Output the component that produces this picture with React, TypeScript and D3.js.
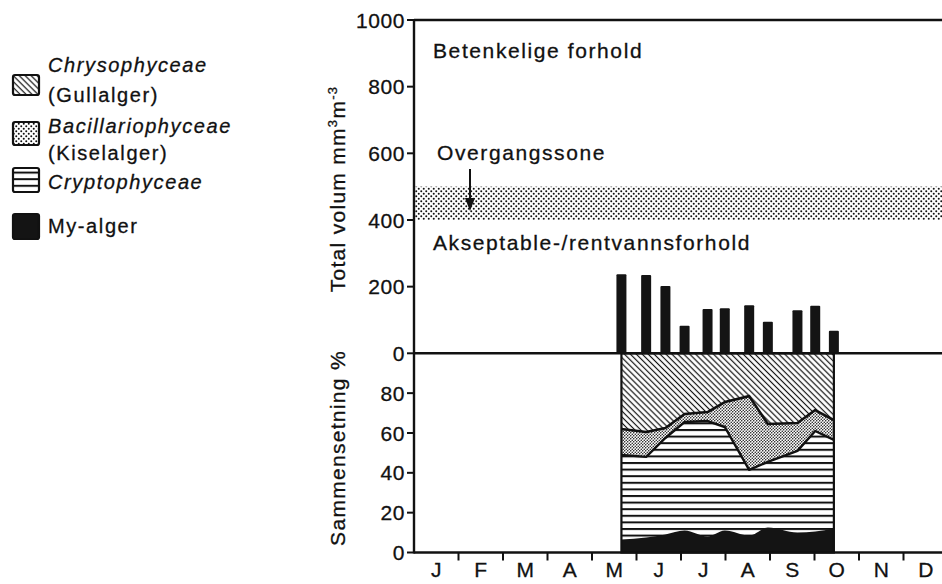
import React from "react";
import * as d3 from "d3";

// sampling dates (dd.mm) and values
const months = ["J", "F", "M", "A", "M", "J", "J", "A", "S", "O", "N", "D"];
const daysInMonth = [31, 29, 31, 30, 31, 30, 31, 31, 30, 31, 30, 31];
const sampleDates = ["21.05", "07.06", "20.06", "03.07", "19.07", "31.07", "17.08", "30.08", "19.09", "01.10", "14.10"];
const totalVolume = [237, 235, 202, 83, 133, 135, 144, 95, 129, 143, 68];

// composition, % (bottom to top)
const myAlger = [6.5, 7.5, 9, 11, 8, 11, 8.5, 12.5, 10, 10.5, 12];
const cryptophyceae = [42.5, 40.5, 48.5, 54.5, 58, 52, 33, 33, 41, 50.5, 44.5];
const bacillariophyceae = [13, 12.5, 5, 4, 4.5, 12.5, 37, 19, 14, 10.5, 10];
const chrysophyceae = [38, 39.5, 37.5, 30.5, 29.5, 24.5, 21.5, 35.5, 35, 28.5, 33.5];

const volumeTicks = [0, 200, 400, 600, 800, 1000];
const percentTicks = [0, 20, 40, 60, 80];
const transitionZone = [400, 500];

const FONT = "'Liberation Sans', Arial, Helvetica, sans-serif";
const keys = ["myAlger", "crypto", "bacill", "chryso"];

const toMonth = (s: string) => {
  const [dd, mm] = s.split(".").map(Number);
  return mm - 1 + (dd - 0.5) / daysInMonth[mm - 1];
};

const App: React.FC = () => {
  const x = d3.scaleLinear().domain([0, 12]).range([414, 948]);
  const yVol = d3.scaleLinear().domain([0, 1000]).range([353.3, 20]);
  const yPct = d3.scaleLinear().domain([0, 100]).range([552.5, 353.3]);

  const rows = sampleDates.map((d, i) => ({
    m: toMonth(d),
    myAlger: myAlger[i],
    crypto: cryptophyceae[i],
    bacill: bacillariophyceae[i],
    chryso: chrysophyceae[i],
  }));
  const series = d3.stack<any>().keys(keys)(rows);

  const fills: Record<string, string> = {
    myAlger: "#141414",
    crypto: "url(#hlines)",
    bacill: "url(#dotsDense)",
    chryso: "url(#hatch)",
  };

  const areaFor = (key: string) =>
    d3
      .area<any>()
      .x((d) => x(d.data.m))
      .y0(yPct(0))
      .y1((d) => yPct(d[1]))
      .curve(key === "myAlger" ? d3.curveMonotoneX : d3.curveLinear);

  const lineTop = d3
    .line<any>()
    .x((d) => x(d.data.m))
    .y((d) => yPct(d[1]));

  const x0 = x(rows[0].m);
  const x1 = x(rows[rows.length - 1].m);
  const barW = 10;
  const ink = { fill: "#111", stroke: "#111", strokeWidth: 0.3 };

  return (
    <div style={{ position: "absolute", left: 0, top: 0 }}>
      <svg width={942} height={584} style={{ display: "block", background: "#fff" }} fontFamily={FONT}>
        <defs>
          <pattern id="hatch" patternUnits="userSpaceOnUse" width={4.2} height={4.2} patternTransform="rotate(45)">
            <rect width={4.2} height={4.2} fill="#fff" />
            <line x1={0} x2={4.2} y1={2.1} y2={2.1} stroke="#111" strokeWidth={1.2} />
          </pattern>
          <pattern id="hlines" patternUnits="userSpaceOnUse" width={10} height={6.6}>
            <rect width={10} height={6.6} fill="#fff" />
            <rect y={0} width={10} height={2} fill="#111" />
          </pattern>
          <pattern id="dotsDense" patternUnits="userSpaceOnUse" width={3} height={3}>
            <rect width={3} height={3} fill="#fff" />
            <circle cx={0.75} cy={0.75} r={0.78} fill="#222" />
            <circle cx={2.25} cy={2.25} r={0.78} fill="#222" />
          </pattern>
          <pattern id="dotsSparse" patternUnits="userSpaceOnUse" width={5} height={5}>
            <rect width={5} height={5} fill="#fff" />
            <circle cx={1.25} cy={1.25} r={1} fill="#111" />
            <circle cx={3.75} cy={3.75} r={1} fill="#111" />
          </pattern>
        </defs>

        {/* legend */}
        <g fontSize={20} letterSpacing={1.6} {...ink}>
          <text x={48} y={72} fontStyle="italic">Chrysophyceae</text>
          <text x={48} y={102}>(Gullalger)</text>
          <text x={48} y={133} fontStyle="italic">Bacillariophyceae</text>
          <text x={48} y={160}>(Kiselalger)</text>
          <text x={48} y={189} fontStyle="italic">Cryptophyceae</text>
          <text x={48} y={233}>My-alger</text>
        </g>
        <g stroke="#111" strokeWidth={2.2}>
          <rect x={13} y={75} width={26} height={20} rx={2} fill="url(#hatch)" />
          <rect x={13} y={122} width={26} height={23} rx={2} fill="url(#dotsSparse)" />
          <rect x={13} y={168} width={26} height={24} rx={2} fill="url(#hlines)" />
          <rect x={13} y={214} width={26} height={25} rx={2} fill="#141414" />
        </g>

        {/* transition zone */}
        <rect
          x={x(0) + 1}
          y={yVol(transitionZone[1])}
          width={942 - x(0)}
          height={yVol(transitionZone[0]) - yVol(transitionZone[1])}
          fill="url(#dotsSparse)"
        />

        {/* bars */}
        {rows.map((r, i) => (
          <rect
            key={i}
            x={x(r.m) - barW / 2}
            y={yVol(totalVolume[i])}
            width={barW}
            height={yVol(0) - yVol(totalVolume[i])}
            fill="#141414"
            rx={1}
          />
        ))}

        {/* composition */}
        {[...series].reverse().map((s) => (
          <path key={s.key} d={areaFor(s.key)(s as any) || ""} fill={fills[s.key]} />
        ))}
        <path d={lineTop(series[2] as any) || ""} fill="none" stroke="#111" strokeWidth={2.6} strokeLinejoin="round" />
        <path d={lineTop(series[1] as any) || ""} fill="none" stroke="#111" strokeWidth={2.4} strokeLinejoin="round" />
        <rect x={x0} y={yPct(100)} width={x1 - x0} height={yPct(0) - yPct(100)} fill="none" stroke="#111" strokeWidth={2.2} />

        {/* axes frame */}
        <g stroke="#111" strokeWidth={2.4} fill="none">
          <line x1={x(0)} x2={942} y1={yVol(1000)} y2={yVol(1000)} />
          <line x1={x(0)} x2={942} y1={yVol(0)} y2={yVol(0)} />
          <line x1={x(0)} x2={942} y1={yPct(0)} y2={yPct(0)} />
          <line x1={x(0)} x2={x(0)} y1={yVol(1000)} y2={yPct(0) + 1} />
        </g>

        {/* y ticks */}
        {volumeTicks.map((t) => (
          <g key={"v" + t}>
            <line x1={x(0) - 7} x2={x(0)} y1={yVol(t)} y2={yVol(t)} stroke="#111" strokeWidth={2} />
            <text x={x(0) - 9} y={yVol(t)} dy="0.36em" textAnchor="end" fontSize={21} letterSpacing={0.6} {...ink}>
              {t}
            </text>
          </g>
        ))}
        {percentTicks.map((t) => (
          <g key={"p" + t}>
            <line x1={x(0) - 7} x2={x(0)} y1={yPct(t)} y2={yPct(t)} stroke="#111" strokeWidth={2} />
            <text x={x(0) - 9} y={yPct(t)} dy="0.36em" textAnchor="end" fontSize={21} letterSpacing={0.6} {...ink}>
              {t}
            </text>
          </g>
        ))}

        {/* month ticks and labels */}
        {d3.range(1, 12).map((m) => (
          <line key={"mt" + m} x1={x(m)} x2={x(m)} y1={yPct(0)} y2={yPct(0) + 8} stroke="#111" strokeWidth={2} />
        ))}
        {months.map((mLabel, i) => (
          <text key={"ml" + i} x={x(i + 0.5)} y={577} textAnchor="middle" fontSize={21} {...ink}>
            {mLabel}
          </text>
        ))}

        {/* axis titles */}
        <text transform="translate(345,189) rotate(-90)" textAnchor="middle" fontSize={21} letterSpacing={1.3} {...ink}>
          Total volum mm<tspan dy={-8} fontSize={13}>3</tspan>
          <tspan dy={8}>m</tspan>
          <tspan dy={-8} fontSize={13}>-3</tspan>
        </text>
        <text transform="translate(345,448) rotate(-90)" textAnchor="middle" fontSize={21} letterSpacing={1.3} {...ink}>
          Sammensetning %
        </text>

        {/* annotations */}
        <g fontSize={21} letterSpacing={1.6} {...ink}>
          <text x={433} y={58}>Betenkelige forhold</text>
          <text x={437} y={160}>Overgangssone</text>
          <text x={433} y={250}>Akseptable-/rentvannsforhold</text>
        </g>
        <line x1={470} x2={470} y1={169} y2={200} stroke="#111" strokeWidth={2} />
        <path d="M465,198 L475,198 L470,211 Z" fill="#111" />
      </svg>
    </div>
  );
};

export default App;
